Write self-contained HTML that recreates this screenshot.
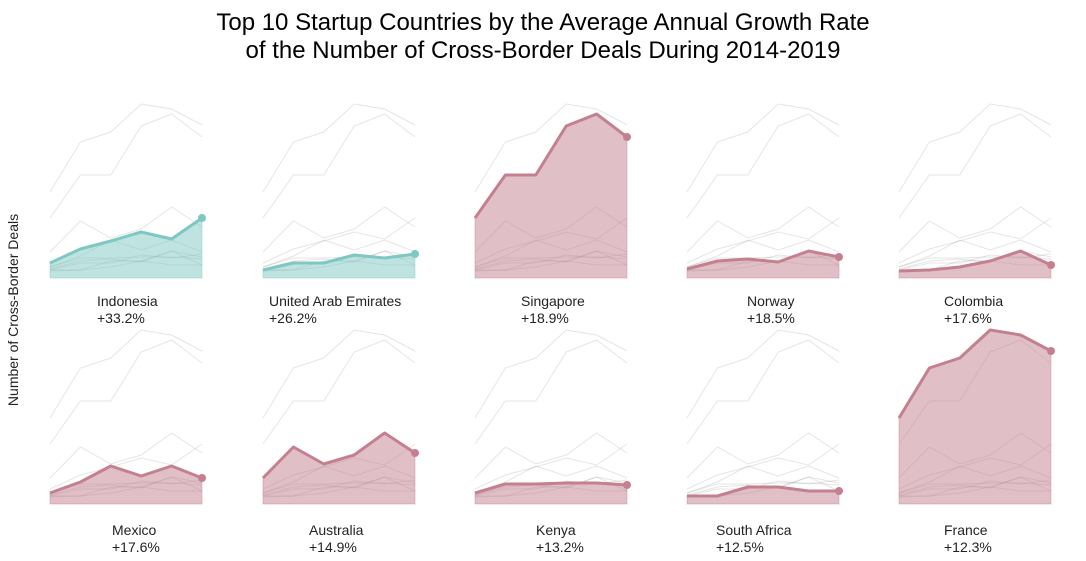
<!DOCTYPE html>
<html><head><meta charset="utf-8">
<style>
body{margin:0;background:#fff;font-family:"Liberation Sans",Arial,sans-serif;}
#wrap{position:relative;width:1086px;height:561px;overflow:hidden;}
</style></head>
<body>
<div id="wrap">
<svg id="svg" width="1086" height="561"></svg>
</div>
<script>
const countries=["Indonesia","United Arab Emirates","Singapore","Norway","Colombia","Mexico","Australia","Kenya","South Africa","France"];
const growth=["+33.2%","+26.2%","+18.9%","+18.5%","+17.6%","+17.6%","+14.9%","+13.2%","+12.5%","+12.3%"];
const years=[2014,2015,2016,2017,2018,2019];
const sIndonesia=[15,29,37,46,39,60];
const sUAE=[8,15,15,23,20,24];
const sSingapore=[60,103,103,152,164,141];
const sNorway=[9,17,19,16,27,21];
const sColombia=[7,8,11,17,27,13];
const sMexico=[11,22,38,28,38,26];
const sAustralia=[26,57,40,49,71,51];
const sKenya=[11,20,20,21,21,19];
const sSouthAfrica=[8,8,17,17,13,13];
const sFrance=[86,136,146,174,169,153];
const series=[sIndonesia,sUAE,sSingapore,sNorway,sColombia,sMexico,sAustralia,sKenya,sSouthAfrica,sFrance];
const teal=[true,true,false,false,false,false,false,false,false,false];

const NS="http://www.w3.org/2000/svg";
const svg=document.getElementById('svg');
function mk(tag,attrs,parent){const e=document.createElementNS(NS,tag);for(const k in attrs)e.setAttribute(k,attrs[k]);(parent||svg).appendChild(e);return e;}
const colX=[50,263,475,687,899], pw=152;
const rowBase=[278,504];
const labelX=[97,269,521,747,944,112,309,536,716,944];
const yScale=v=>v*1.0;
function txt(x,y,s,size,anchor,name,fill){const t=mk('text',{x:x,y:y,'font-size':size,'text-anchor':anchor,fill:fill||'#222','font-family':'"Liberation Sans",Arial,sans-serif'});t.textContent=s;

return t;}
txt(543,30,"Top 10 Startup Countries by the Average Annual Growth Rate",24,'middle','chart-title-line1','#000');
txt(543,58,"of the Number of Cross-Border Deals During 2014-2019",24,'middle','chart-title-line2','#000');
const yl=txt(0,0,"Number of Cross-Border Deals",14,'middle','y-axis-title');
yl.setAttribute('transform','translate(18,310) rotate(-90)');

series.forEach((s,i)=>{
  const col=i%5,row=Math.floor(i/5);
  const x0=colX[col],base=rowBase[row];
  const xf=j=>x0+j*pw/(years.length-1);
  const yf=v=>base-yScale(v);
  const g=mk('g',{});
  
  
  series.forEach((o,k)=>{
    if(k===i)return;
    const p=mk('polyline',{points:o.map((v,j)=>xf(j)+','+yf(v)).join(' '),fill:'none',stroke:'#999','stroke-opacity':0.25,'stroke-width':1},g);
    
    
  });
  const c=teal[i]?'#7ec8c3':'#c4808f';
  const pts=s.map((v,j)=>xf(j)+','+yf(v)).join(' ');
  const area=mk('polygon',{points:xf(0)+','+base+' '+pts+' '+xf(s.length-1)+','+base,fill:c,'fill-opacity':0.5,stroke:c,'stroke-opacity':0.4,'stroke-width':1},g);
  
  
  const ln=mk('polyline',{points:pts,fill:'none',stroke:c,'stroke-width':3,'stroke-linejoin':'round'},g);
  
  
  const dot=mk('circle',{cx:xf(s.length-1),cy:yf(s[s.length-1]),r:4,fill:c},g);
  
  
  const ly=row===0?306:535;
  const a=txt(labelX[i],ly,countries[i],14,'start','country-label');
  const b=txt(labelX[i],ly+17,growth[i],14,'start','growth-label');
  g.appendChild(a);g.appendChild(b);
});
</script>
</body></html>
